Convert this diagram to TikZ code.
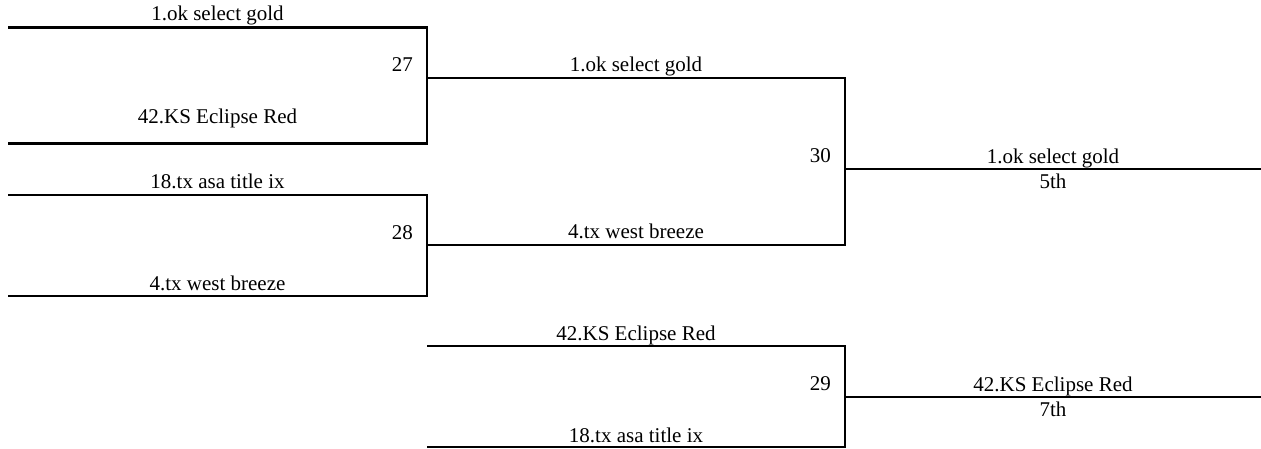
\documentclass[tikz,border=0pt]{standalone}
\usepackage{fontspec}
\setmainfont{Liberation Serif}
\usetikzlibrary{calc, %for midpoints of the bracket lines
                positioning}

\begin{document}
\begin{tikzpicture}[x=1pt, y=-1pt,
                    Line/.style={line width=2.2pt},
                    Team/.style={anchor=base, inner sep=0pt, font=\fontsize{21}{24}\selectfont},
                    Game/.style={Team, anchor=base east}
                    ]
    \useasboundingbox (0,0) rectangle (1261,449);

    % BRACKET POINTS %
    \coordinate (a27) at (8,27.5);
    \coordinate (b27) at (8,143.5);
    \coordinate (w27) at (427,78);
    \coordinate (a28) at (8,195);
    \coordinate (b28) at (8,296);
    \coordinate (w28) at (427,245);
    \coordinate (a29) at (427,346);
    \coordinate (b29) at (427,447);
    \coordinate (w29) at (845,397);
    \coordinate (e29) at (1261,397);
    \coordinate (w30) at (845,169);
    \coordinate (e30) at (1261,169);

    % LINES %
    \draw[Line] (a27) -| (w27) |- (b27);
    \draw[Line] (a28) -| (w28) |- (b28);
    \draw[Line] (w27) -| (w30) |- (w28);
    \draw[Line] (a29) -| (w29) |- (b29);
    \draw[Line] (w30) -- (e30);
    \draw[Line] (w29) -- (e29);

    % ROUND 1 %
    \node[Team] (n27a) at ($(a27)!0.5!(a27 -| w27) + (0,-6.5)$) {1.ok select gold};
    \node[Team] (n27b) at ($(b27)!0.5!(b27 -| w27) + (0,-19.5)$) {42.KS Eclipse Red};
    \node[Game] (g27) at ($(w27) + (-14,-6.5)$) {27};

    \node[Team] (n28a) at ($(a28)!0.5!(a28 -| w28) + (0,-6.5)$) {18.tx asa title ix};
    \node[Team] (n28b) at ($(b28)!0.5!(b28 -| w28) + (0,-6)$) {4.tx west breeze};
    \node[Game] (g28) at ($(w28) + (-14,-5)$) {28};

    % ROUND 2 %
    \node[Team] (n30a) at ($(w27)!0.5!(w27 -| w30) + (0,-6.5)$) {1.ok select gold};
    \node[Team] (n30b) at ($(w28)!0.5!(w28 -| w30) + (0,-6)$) {4.tx west breeze};
    \node[Game] (g30) at ($(w30) + (-14,-6.5)$) {30};

    \node[Team] (n29a) at ($(a29)!0.5!(a29 -| w29) + (0,-5.5)$) {42.KS Eclipse Red};
    \node[Team] (n29b) at ($(b29)!0.5!(b29 -| w29) + (0,-5)$) {18.tx asa title ix};
    \node[Game] (g29) at ($(w29) + (-14,-6.5)$) {29};

    % PLACES %
    \node[Team] (n5a) at ($(w30)!0.5!(e30) + (0,-5.5)$) {1.ok select gold};
    \node[Team] (n5b) at ($(w30)!0.5!(e30) + (0,19.5)$) {5th};
    \node[Team] (n7a) at ($(w29)!0.5!(e29) + (0,-5.5)$) {42.KS Eclipse Red};
    \node[Team] (n7b) at ($(w29)!0.5!(e29) + (0,19.5)$) {7th};

\end{tikzpicture}
\end{document}
